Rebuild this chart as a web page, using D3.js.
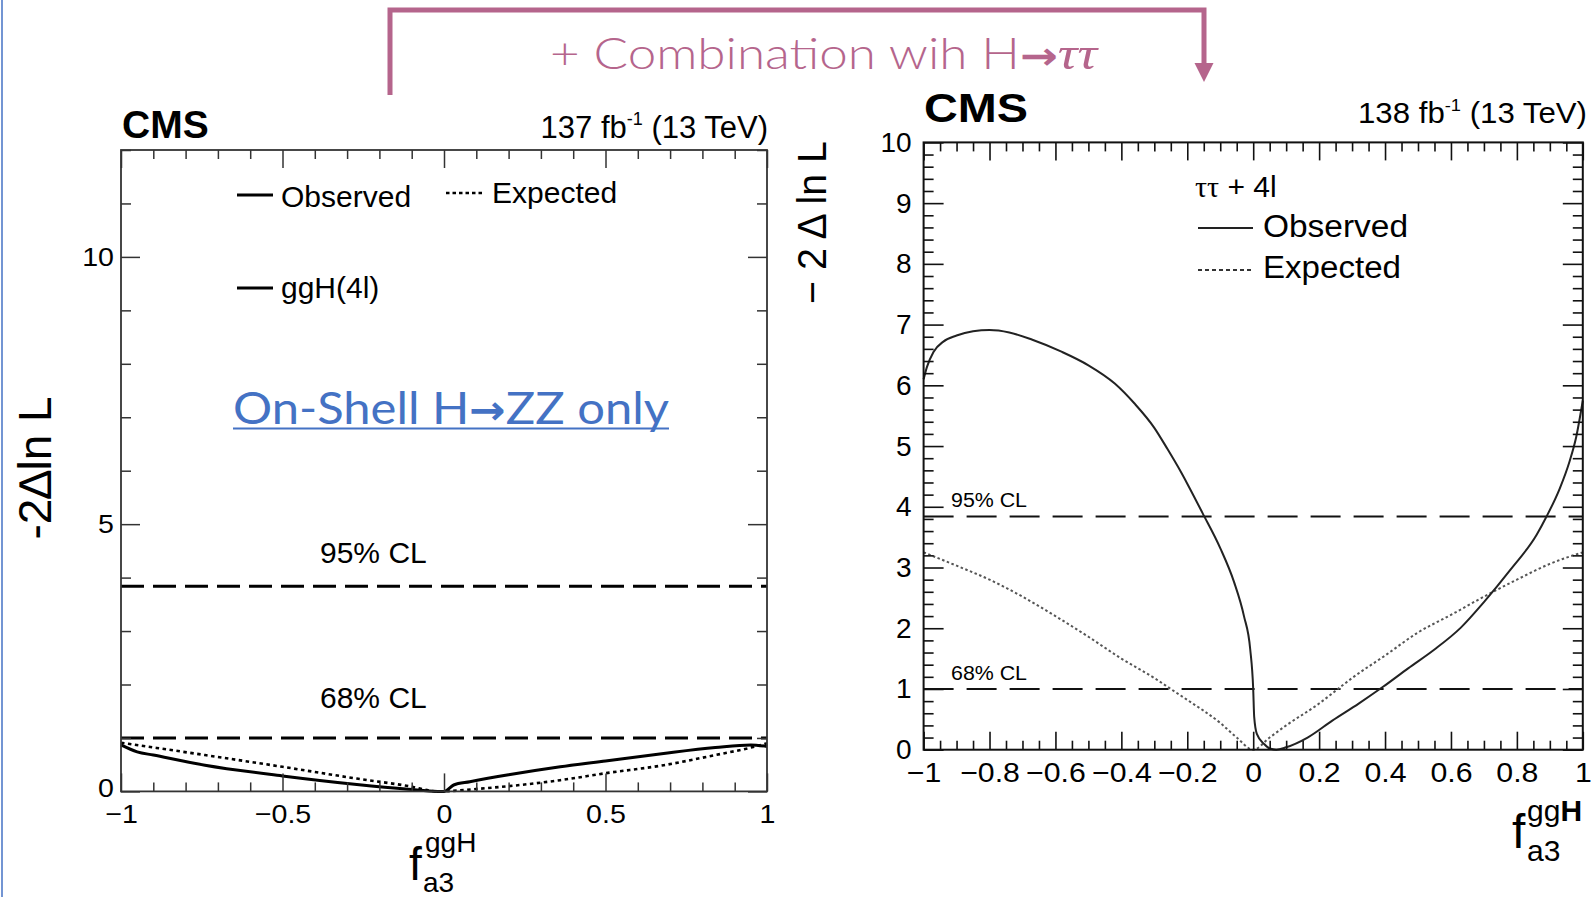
<!DOCTYPE html>
<html><head><meta charset="utf-8">
<script src="https://cdn.jsdelivr.net/npm/d3@7"></script>
<style>
html,body{margin:0;padding:0;background:#fff;}
svg{display:block;}
</style></head><body>
<svg id="c" width="1595" height="897"></svg>
<script>
// ------------------ data ------------------
const xLimits = [-1, 1];
const leftYLimits = [0, 12];
const rightYLimits = [0, 10];
const clLevels = [1, 3.84];
const clLabels = ["68% CL", "95% CL"];

const leftXMajor = [-1, -0.5, 0, 0.5, 1];
const leftYMajor = [0, 5, 10];
const rightXMajor = [-1, -0.8, -0.6, -0.4, -0.2, 0, 0.2, 0.4, 0.6, 0.8, 1];
const rightYMajor = [0, 1, 2, 3, 4, 5, 6, 7, 8, 9, 10];

// On-shell H->ZZ only (137 fb-1)
const leftObsX = [-1, -0.95, -0.9, -0.74, -0.5, -0.27, -0.11, -0.02, 0, 0.03, 0.08, 0.2, 0.36, 0.5, 0.68, 0.84, 0.95, 1];
const leftObsY = [0.87, 0.74, 0.68, 0.49, 0.29, 0.13, 0.04, 0.0, 0.0, 0.12, 0.18, 0.31, 0.46, 0.57, 0.71, 0.82, 0.87, 0.84];
const leftExpX = [-1, -0.74, -0.5, -0.27, -0.11, -0.02, 0.13, 0.36, 0.5, 0.68, 0.84, 0.95, 1];
const leftExpY = [0.91, 0.68, 0.46, 0.24, 0.1, 0.0, 0.06, 0.21, 0.34, 0.49, 0.68, 0.82, 0.9];

// tautau + 4l combination (138 fb-1)
const rightObsX = [-1, -0.99, -0.97, -0.94, -0.9, -0.85, -0.8, -0.74, -0.67, -0.58, -0.5, -0.42, -0.36, -0.3, -0.26, -0.22, -0.2, -0.154, -0.1, -0.058, -0.028, -0.009, 0, 0.003, 0.011, 0.034, 0.05, 0.07, 0.1, 0.165, 0.24, 0.32, 0.395, 0.47, 0.55, 0.63, 0.7, 0.78, 0.86, 0.89, 0.93, 0.96, 0.98, 1];
const rightObsY = [6.1, 6.3, 6.55, 6.72, 6.82, 6.89, 6.91, 6.87, 6.75, 6.55, 6.33, 6.03, 5.7, 5.3, 4.95, 4.58, 4.38, 3.9, 3.32, 2.76, 2.2, 1.65, 1.0, 0.54, 0.26, 0.09, 0.02, 0, 0.04, 0.2, 0.48, 0.76, 1.04, 1.34, 1.65, 2.01, 2.43, 2.96, 3.54, 3.84, 4.3, 4.75, 5.15, 5.75];
const rightExpX = [-1, -0.9, -0.8, -0.7, -0.6, -0.5, -0.4, -0.3, -0.25, -0.2, -0.1, -0.05, 0, 0.05, 0.1, 0.2, 0.257, 0.3, 0.4, 0.5, 0.6, 0.7, 0.8, 0.9, 1];
const rightExpY = [3.25, 3.03, 2.8, 2.52, 2.2, 1.86, 1.5, 1.18, 1.0, 0.82, 0.44, 0.2, 0, 0.2, 0.4, 0.76, 1.0, 1.18, 1.55, 1.93, 2.22, 2.52, 2.8, 3.06, 3.25];

// ------------------ drawing ------------------
const svg = d3.select("#c");
const SANS = "'Liberation Sans', Arial, Helvetica, sans-serif";
const fmt = d3.format("");
const pink = "#B5658C";
const blue = "#4472C4";

svg.append("rect").attr("width", 1595).attr("height", 897).attr("fill", "#fff");
// slide border
svg.append("line").attr("x1", 2).attr("x2", 2).attr("y1", 0).attr("y2", 897)
  .attr("stroke", blue).attr("stroke-width", 1.5);

function minorVals(lo, hi, step, majors) {
  const n = Math.round((hi - lo) / step);
  return d3.range(n + 1).map(i => +(lo + i * step).toFixed(4))
    .filter(v => !majors.some(m => Math.abs(m - v) < 1e-6));
}

function addText(g, o) {
  const t = g.append("text")
    .attr("x", o.x).attr("y", o.y)
    .attr("font-family", o.family || SANS)
    .attr("font-size", o.fs)
    .attr("font-weight", o.weight || "normal")
    .attr("text-anchor", o.anchor || "start")
    .attr("fill", o.fill || "#000")
    .text(o.text);
  if (o.len) t.attr("textLength", o.len).attr("lengthAdjust", "spacingAndGlyphs");
  if (o.rotate) t.attr("transform", `rotate(${o.rotate},${o.x},${o.y})`);
  return t;
}

function stretch(sel, f) {
  sel.each(function () {
    const w = this.getComputedTextLength();
    if (w > 0) this.setAttribute("textLength", (w * f).toFixed(1)), this.setAttribute("lengthAdjust", "spacingAndGlyphs");
  });
}

function drawAxes(g, x, y, o) {
  const [X0, X1] = x.range();
  const [Y0, Y1] = y.range();
  const style = sel => {
    sel.select(".domain").remove();
    sel.selectAll("line").attr("stroke", o.color).attr("stroke-width", o.tickW);
    sel.attr("font-family", SANS).attr("font-size", o.fs);
    sel.selectAll("text").attr("fill", "#000");
  };
  const xMinor = minorVals(xLimits[0], xLimits[1], o.xMinorStep, o.xMajor);
  const yMinor = minorVals(y.domain()[0], y.domain()[1], o.yMinorStep, o.yMajor);
  // bottom
  const xb = g.append("g").attr("transform", `translate(0,${Y0})`)
    .call(d3.axisBottom(x).tickValues(o.xMajor).tickSize(-o.xMajLen).tickPadding(o.xPad).tickFormat(fmt)).call(style);
  g.append("g").attr("transform", `translate(0,${Y0})`)
    .call(d3.axisBottom(x).tickValues(xMinor).tickSize(-o.xMinLen).tickFormat("")).call(style);
  // top
  g.append("g").attr("transform", `translate(0,${Y1})`)
    .call(d3.axisTop(x).tickValues(o.xMajor).tickSize(-o.xMajLen).tickFormat("")).call(style);
  g.append("g").attr("transform", `translate(0,${Y1})`)
    .call(d3.axisTop(x).tickValues(xMinor).tickSize(-o.xMinLen).tickFormat("")).call(style);
  // left
  const yl = g.append("g").attr("transform", `translate(${X0},0)`)
    .call(d3.axisLeft(y).tickValues(o.yMajor).tickSize(-o.yMajLen).tickPadding(o.yPad).tickFormat(fmt)).call(style);
  g.append("g").attr("transform", `translate(${X0},0)`)
    .call(d3.axisLeft(y).tickValues(yMinor).tickSize(-o.yMinLen).tickFormat("")).call(style);
  // right
  g.append("g").attr("transform", `translate(${X1},0)`)
    .call(d3.axisRight(y).tickValues(o.yMajor).tickSize(-o.yMajLen).tickFormat("")).call(style);
  g.append("g").attr("transform", `translate(${X1},0)`)
    .call(d3.axisRight(y).tickValues(yMinor).tickSize(-o.yMinLen).tickFormat("")).call(style);
  // frame
  g.append("rect").attr("x", X0).attr("y", Y1).attr("width", X1 - X0).attr("height", Y0 - Y1)
    .attr("fill", "none").attr("stroke", o.color).attr("stroke-width", o.frameW);
  if (o.xStretch) stretch(xb.selectAll("text"), o.xStretch);
  if (o.yStretch) stretch(yl.selectAll("text"), o.yStretch);
  return {xb, yl};
}

function drawCurve(g, x, y, xs, ys, st) {
  const line = d3.line().x(d => x(d[0])).y(d => y(d[1])).curve(d3.curveMonotoneX);
  g.append("path").attr("d", line(d3.zip(xs, ys)))
    .attr("fill", "none").attr("stroke", st.color).attr("stroke-width", st.w)
    .attr("stroke-dasharray", st.dash || null).attr("stroke-linejoin", "round");
}

// ---------- top annotation bracket ----------
const ann = svg.append("g");
ann.append("path")
  .attr("d", "M390,95 L390,10 L1204,10 L1204,64")
  .attr("fill", "none").attr("stroke", pink).attr("stroke-width", 5);
ann.append("path").attr("d", "M1194.5,63 L1213.5,63 L1204,82 Z").attr("fill", pink);
const title = ann.append("text").attr("x", 550).attr("y", 69)
  .attr("font-family", "Lato, 'Open Sans', sans-serif").attr("font-size", 43)
  .attr("fill", pink).attr("textLength", 547).attr("lengthAdjust", "spacingAndGlyphs");
title.append("tspan").attr("font-weight", 300).text("+ Combination wih H");
title.append("tspan").attr("font-weight", "bold").attr("font-family", "'DejaVu Sans', sans-serif").attr("font-size", 38).text("→");
title.append("tspan").attr("font-weight", "normal").attr("font-style", "italic").attr("font-family", "'Liberation Serif', 'DejaVu Serif', serif").attr("font-size", 46).text("ττ");

// ---------- left plot ----------
const gl = svg.append("g");
const xL = d3.scaleLinear().domain(xLimits).range([121, 767]);
const yL = d3.scaleLinear().domain(leftYLimits).range([791.4, 150]);

clLevels.forEach(v => {
  gl.append("line").attr("x1", xL(xLimits[0])).attr("x2", xL(xLimits[1]))
    .attr("y1", yL(v)).attr("y2", yL(v))
    .attr("stroke", "#000").attr("stroke-width", 3).attr("stroke-dasharray", "23,9");
});
drawCurve(gl, xL, yL, leftExpX, leftExpY, {color: "#000", w: 2.6, dash: "3.5,3.5"});
drawCurve(gl, xL, yL, leftObsX, leftObsY, {color: "#000", w: 3});

const axL = drawAxes(gl, xL, yL, {
  xMajor: leftXMajor, yMajor: leftYMajor, xMinorStep: 0.1, yMinorStep: 1,
  xMajLen: 18, xMinLen: 9, yMajLen: 19, yMinLen: 10,
  xPad: 13, yPad: 7, fs: 26, color: "#333", tickW: 1.5, frameW: 1.8,
  xStretch: 1.1, yStretch: 1.1
});
// nudge the "0" y label slightly up, as in the reference, to clear the "−1" x label
axL.yl.selectAll(".tick").filter(d => d === 0).select("text").attr("dy", "0.2em");

addText(gl, {x: 122, y: 138, text: "CMS", fs: 39, weight: "bold"});
const lum1 = gl.append("text").attr("x", 768).attr("y", 138).attr("text-anchor", "end")
  .attr("font-family", SANS).attr("font-size", 31);
lum1.append("tspan").text("137 fb");
lum1.append("tspan").attr("font-size", 18).attr("dy", -13).text("-1");
lum1.append("tspan").attr("dy", 13).text(" (13 TeV)");

// legend
gl.append("line").attr("x1", 237).attr("x2", 273).attr("y1", 195).attr("y2", 195).attr("stroke", "#000").attr("stroke-width", 3);
addText(gl, {x: 281, y: 207, text: "Observed", fs: 30});
gl.append("line").attr("x1", 446).attr("x2", 484).attr("y1", 193).attr("y2", 193).attr("stroke", "#000").attr("stroke-width", 2.6).attr("stroke-dasharray", "3.5,3");
addText(gl, {x: 492, y: 203, text: "Expected", fs: 30});
gl.append("line").attr("x1", 237).attr("x2", 273).attr("y1", 288).attr("y2", 288).attr("stroke", "#000").attr("stroke-width", 3);
addText(gl, {x: 281, y: 298, text: "ggH(4l)", fs: 30});

addText(gl, {x: 320, y: 563, text: clLabels[1], fs: 30});
addText(gl, {x: 320, y: 708, text: clLabels[0], fs: 30});

const os = gl.append("text").attr("x", 233).attr("y", 424)
  .attr("font-family", "Lato, 'Open Sans', sans-serif").attr("font-size", 45).attr("fill", blue)
  .attr("textLength", 436).attr("lengthAdjust", "spacingAndGlyphs");
os.append("tspan").text("On-Shell H");
os.append("tspan").attr("font-weight", "bold").attr("font-family", "'DejaVu Sans', sans-serif").attr("font-size", 40).text("→");
os.append("tspan").text("ZZ only");
gl.append("line").attr("x1", 233).attr("x2", 669).attr("y1", 428.5).attr("y2", 428.5).attr("stroke", blue).attr("stroke-width", 2.2);

addText(gl, {x: 51, y: 468, text: "-2\u2206ln L", fs: 46, anchor: "middle", rotate: -90});
addText(gl, {x: 409, y: 880, text: "f", fs: 46});
addText(gl, {x: 425, y: 852, text: "ggH", fs: 28});
addText(gl, {x: 423, y: 892, text: "a3", fs: 28});

// ---------- right plot ----------
const gr = svg.append("g");
const xR = d3.scaleLinear().domain(xLimits).range([923.6, 1582.8]);
const yR = d3.scaleLinear().domain(rightYLimits).range([749.7, 142.4]);

clLevels.forEach(v => {
  gr.append("line").attr("x1", xR(xLimits[0])).attr("x2", xR(xLimits[1]))
    .attr("y1", yR(v)).attr("y2", yR(v))
    .attr("stroke", "#111").attr("stroke-width", 2).attr("stroke-dasharray", "30,13");
});
drawCurve(gr, xR, yR, rightExpX, rightExpY, {color: "#555", w: 2, dash: "2.5,2.5"});
drawCurve(gr, xR, yR, rightObsX, rightObsY, {color: "#222", w: 2});

drawAxes(gr, xR, yR, {
  xMajor: rightXMajor, yMajor: rightYMajor, xMinorStep: 0.05, yMinorStep: 0.2,
  xMajLen: 18, xMinLen: 9, yMajLen: 20, yMinLen: 10,
  xPad: 12, yPad: 12, fs: 28, color: "#111", tickW: 1.6, frameW: 2,
  xStretch: 1.08
});

addText(gr, {x: 924, y: 122, text: "CMS", fs: 41, weight: "bold", len: 104});
const lum2 = gr.append("text").attr("x", 1587).attr("y", 123).attr("text-anchor", "end")
  .attr("font-family", SANS).attr("font-size", 29)
  .attr("textLength", 229).attr("lengthAdjust", "spacingAndGlyphs");
lum2.append("tspan").text("138 fb");
lum2.append("tspan").attr("font-size", 17).attr("dy", -12).text("-1");
lum2.append("tspan").attr("dy", 12).text(" (13 TeV)");

const tt = gr.append("text").attr("x", 1195).attr("y", 197).attr("font-size", 30).attr("font-family", SANS);
tt.append("tspan").attr("font-family", "'Liberation Serif', 'DejaVu Serif', serif").text("ττ");
tt.append("tspan").text(" + 4l");
gr.append("line").attr("x1", 1198).attr("x2", 1253).attr("y1", 228).attr("y2", 228).attr("stroke", "#222").attr("stroke-width", 2);
addText(gr, {x: 1263, y: 237, text: "Observed", fs: 31, len: 145});
gr.append("line").attr("x1", 1198).attr("x2", 1253).attr("y1", 270).attr("y2", 270).attr("stroke", "#333").attr("stroke-width", 2).attr("stroke-dasharray", "4,3");
addText(gr, {x: 1263, y: 278, text: "Expected", fs: 31, len: 138});

addText(gr, {x: 951, y: 507, text: clLabels[1], fs: 20, len: 76});
addText(gr, {x: 951, y: 680, text: clLabels[0], fs: 20, len: 76});

addText(gr, {x: 826, y: 141, text: "\u2212 2 \u0394 ln L", fs: 40, anchor: "end", rotate: -90, len: 163});
addText(gr, {x: 1512, y: 848, text: "f", fs: 48});
const ggr = gr.append("text").attr("x", 1527).attr("y", 821).attr("font-family", SANS).attr("font-size", 30);
ggr.append("tspan").text("gg");
ggr.append("tspan").attr("font-weight", "bold").text("H");
addText(gr, {x: 1527, y: 861, text: "a3", fs: 30});
</script>
</body></html>
